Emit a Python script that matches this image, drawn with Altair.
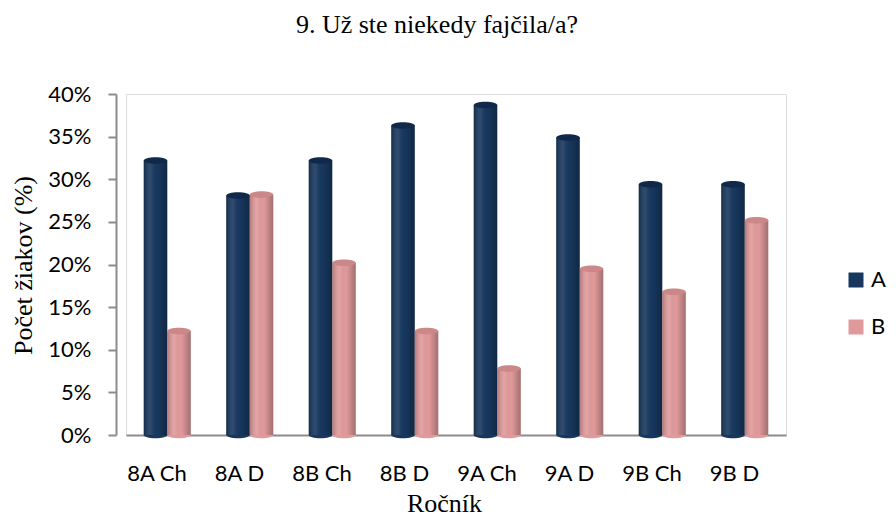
import altair as alt
import pandas as pd

title_text = "9. Už ste niekedy fajčila/a?"
groups = ["8A Ch", "8A D", "8B Ch", "8B D", "9A Ch", "9A D", "9B Ch", "9B D"]
series_names = ["A", "B"]
a_vals = [32.2, 28.1, 32.2, 36.3, 38.7, 34.9, 29.4, 29.4]
b_vals = [12.2, 28.2, 20.2, 12.2, 7.8, 19.5, 16.8, 25.2]
y_ticks = [0, 5, 10, 15, 20, 25, 30, 35, 40]
colors = ["#17375E", "#E19A9B"]
cap_colors = {"A": "#10294A", "B": "#CC8788"}

rows = []
for g, a, b in zip(groups, a_vals, b_vals):
    rows.append({"Ročník": g, "Séria": "A", "Hodnota": a})
    rows.append({"Ročník": g, "Séria": "B", "Hodnota": b})
df = pd.DataFrame(rows)

SANS = "Lato"
SERIF = "Liberation Serif"
ELLIPSE = "M -1,0 A 1,0.28 0 1,1 1,0 A 1,0.28 0 1,1 -1,0 Z"

y_enc = alt.Y(
    "Hodnota:Q",
    scale=alt.Scale(domain=[0, 40], nice=False),
    axis=alt.Axis(
        title="Počet žiakov (%)",
        values=y_ticks,
        labelExpr="datum.value + '%'",
        labelFont=SANS,
        labelFontSize=22,
        labelColor="#000000",
        labelPadding=17,
        tickSize=8,
        tickColor="#8C8C8C",
        tickWidth=2,
        domainColor="#8C8C8C",
        domainWidth=2,
        offset=10,
        grid=False,
        titleFont=SERIF,
        titleFontSize=26,
        titleFontWeight="normal",
        titleColor="#000000",
        titleBaseline="alphabetic",
        titleAngle=270,
        titleAlign="center",
        titleX=-85,
        titleY=171,
    ),
)

# category axis (labels sit a little left of the bars, as on the 3D floor's front edge)
axis_layer = alt.Chart(df).mark_bar(opacity=0).encode(
    x=alt.X(
        "Ročník:N",
        sort=groups,
        scale=alt.Scale(type="band", paddingInner=0.2485, paddingOuter=0.12425, align=0),
        axis=alt.Axis(
            title="Ročník",
            labelAngle=0,
            labelFont=SANS,
            labelFontSize=22,
            labelColor="#000000",
            labelBaseline="alphabetic",
            labelPadding=45,
            ticks=False,
            tickSize=0,
            domainColor="#8C8C8C",
            domainWidth=2,
            titleFont=SERIF,
            titleFontSize=26,
            titleFontWeight="normal",
            titleColor="#000000",
            titleBaseline="alphabetic",
            titleAlign="center",
            titleX=318,
            titleY=76,
        ),
    ),
    y=y_enc,
)

x_bar = alt.X(
    "Ročník:N",
    sort=groups,
    scale=alt.Scale(paddingInner=0.43, paddingOuter=0.215),
    axis=None,
)
xo = alt.XOffset("Séria:N", sort=series_names)

base = alt.Chart(df).encode(x=x_bar, y=y_enc, xOffset=xo)

bottoms = [
    alt.Chart(df)
    .transform_filter(alt.datum["Séria"] == s)
    .mark_point(shape=ELLIPSE, size=552, filled=True, opacity=1, strokeWidth=0, fill=c)
    .encode(x=x_bar, xOffset=xo, y=alt.Y(datum=0))
    for s, c in zip(series_names, colors)
]

bars = base.mark_bar().encode(
    color=alt.Color(
        "Séria:N",
        sort=series_names,
        scale=alt.Scale(domain=series_names, range=colors),
        legend=alt.Legend(
            title=None,
            orient="none",
            legendX=719,
            legendY=175,
            symbolType="square",
            symbolSize=225,
            symbolStrokeWidth=0,
            labelFont=SANS,
            labelFontSize=22,
            labelColor="#000000",
            labelOffset=4,
            rowPadding=25,
            padding=0,
        ),
    )
)

shade = base.mark_bar(
    fill=alt.Gradient(
        gradient="linear",
        x1=0, x2=1, y1=0, y2=0,
        stops=[
            alt.GradientStop(color="rgba(0,0,0,0.22)", offset=0),
            alt.GradientStop(color="rgba(255,255,255,0.10)", offset=0.3),
            alt.GradientStop(color="rgba(0,0,0,0.0)", offset=0.6),
            alt.GradientStop(color="rgba(0,0,0,0.28)", offset=1),
        ],
    ),
)

caps = [
    base.transform_filter(alt.datum["Séria"] == s)
    .mark_point(shape=ELLIPSE, size=552, filled=True, opacity=1, strokeWidth=0, fill=cap_colors[s])
    for s in series_names
]

title_layer = alt.Chart(pd.DataFrame({"t": [title_text]})).mark_text(
    font=SERIF, fontSize=26, color="#000000", align="center", baseline="alphabetic"
).encode(text="t:N", x=alt.value(311), y=alt.value(-61))

chart = (
    alt.layer(axis_layer, *bottoms, bars, shade, *caps, title_layer)
    .resolve_scale(x="independent")
    .resolve_axis(x="independent")
    .properties(
        width=660,
        height=341,
        autosize=alt.AutoSizeParams(type="none"),
        padding={"left": 118, "top": 86, "right": 102, "bottom": 82},
    )
    .configure_view(stroke=None)
    .configure(background="white")
)

chart.save("out.html", embed_options={"renderer": "svg", "actions": False})
